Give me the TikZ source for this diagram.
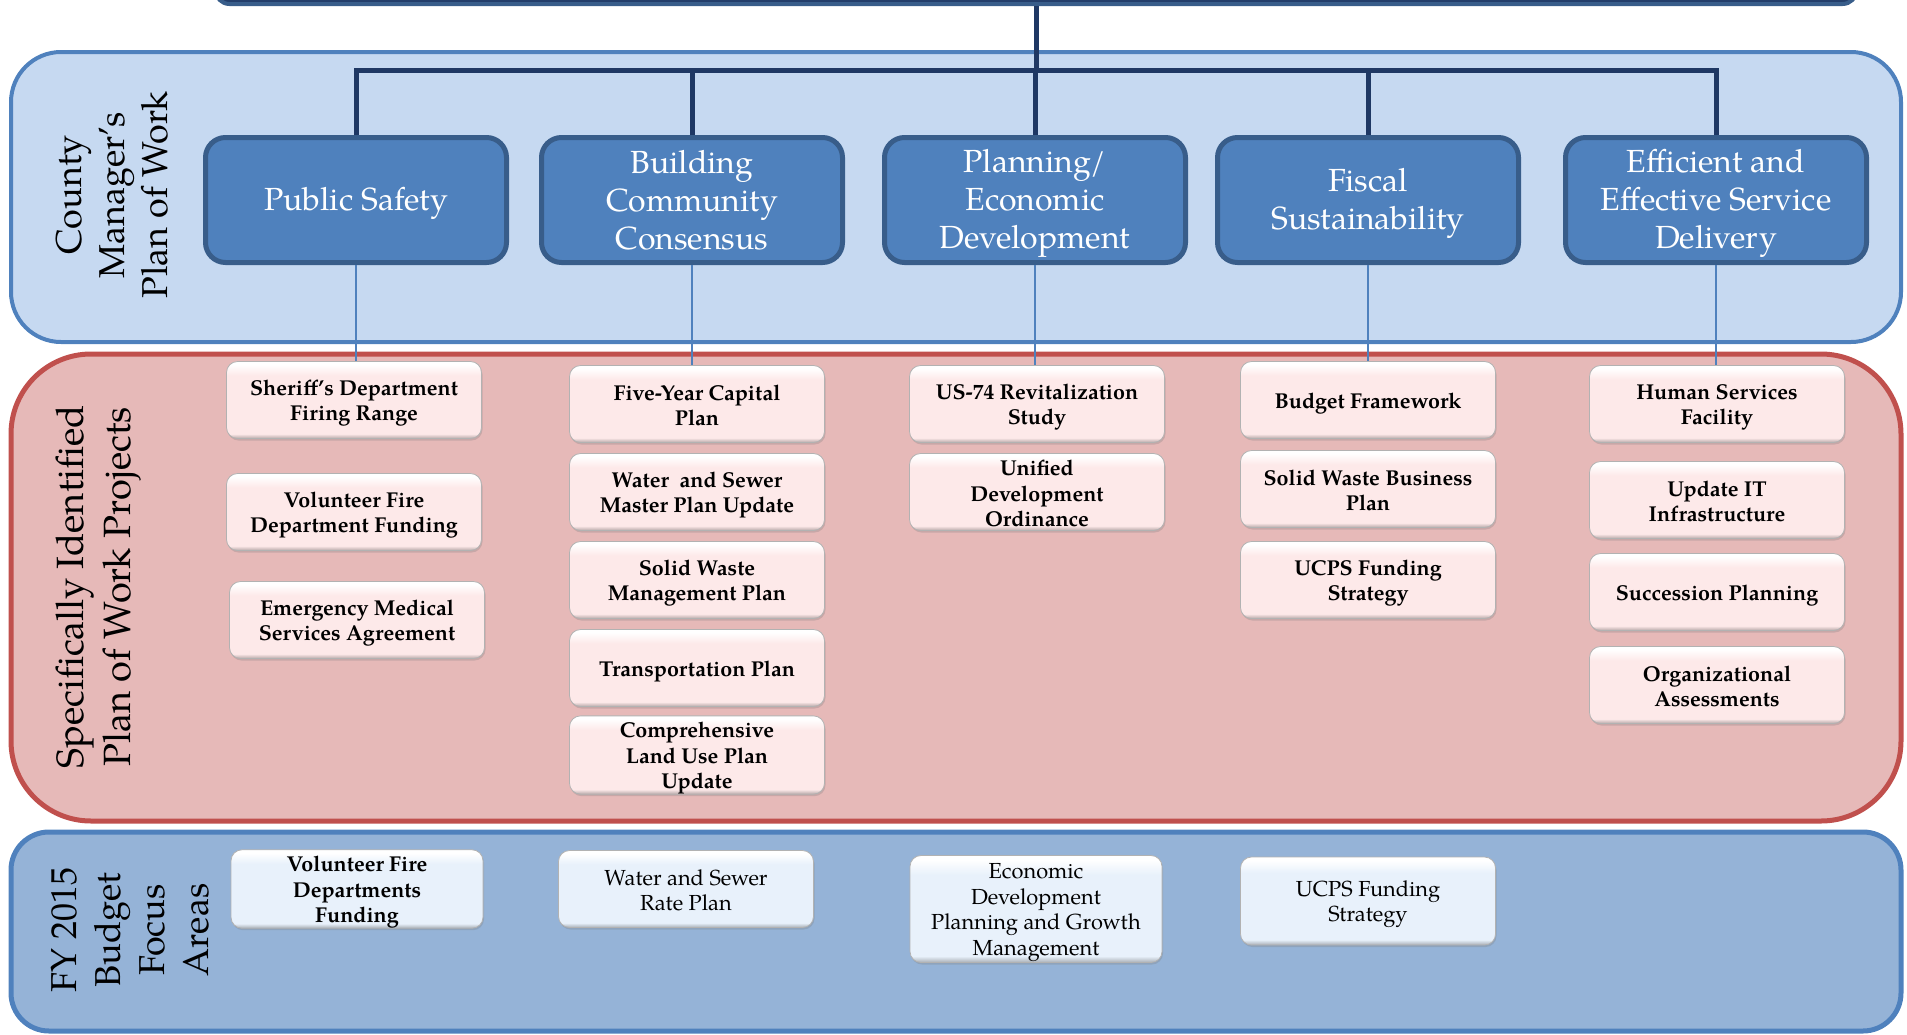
\documentclass[tikz,border=0pt]{standalone}
\usepackage{fontspec}
\setmainfont{TeX Gyre Pagella}
\usetikzlibrary{shadows}
\definecolor{pbfill}{HTML}{C6D9F1}
\definecolor{pbline}{HTML}{4F81BD}
\definecolor{hdfill}{HTML}{4F81BD}
\definecolor{hdline}{HTML}{385D8A}
\definecolor{navy}{HTML}{1F3864}
\definecolor{rdfill}{HTML}{E6B9B8}
\definecolor{rdline}{HTML}{C0504D}
\definecolor{bbfill}{HTML}{95B3D7}
\definecolor{pkfill}{HTML}{FDE9E9}
\definecolor{ltfill}{HTML}{E8F1FB}
\colorlet{pkdark}{pkfill!72!black}
\colorlet{ltdark}{ltfill!72!black}
\pgfdeclareverticalshading{pinkbevel}{100bp}{color(0bp)=(pkdark); color(25bp)=(pkdark); color(28bp)=(pkfill); color(66bp)=(pkfill); color(73bp)=(white); color(100bp)=(white)}
\pgfdeclareverticalshading{bluebevel}{100bp}{color(0bp)=(ltdark); color(25bp)=(ltdark); color(28bp)=(ltfill); color(66bp)=(ltfill); color(73bp)=(white); color(100bp)=(white)}
% invisible struts: metric-based vertical centring of the lines
\newcommand\itop{\rule{0pt}{21.75pt}}
\newcommand\ibot{\rule[-3.75pt]{0pt}{3.75pt}}
\newcommand\htop{\rule{0pt}{30pt}}
\newcommand\hbot{\rule[-8pt]{0pt}{8pt}}
\begin{document}
\begin{tikzpicture}[x=1pt,y=-1pt,
  hdr/.style={draw=hdline, fill=hdfill, line width=5pt, rounded corners=20pt,
    minimum width=301pt, minimum height=125pt, inner sep=0pt, text=white,
    align=center, font=\fontsize{32}{38}\selectfont},
  itembase/.style={draw=black!30, line width=0.8pt, rounded corners=11pt,
    minimum width=255pt, minimum height=77pt, inner sep=0pt, align=center,
    drop shadow={shadow xshift=1pt, shadow yshift=-2pt, opacity=0.3}},
  pitem/.style={itembase, shading=pinkbevel, font=\bfseries\fontsize{21.5}{25.5}\selectfont},
  bitem/.style={itembase, shading=bluebevel, font=\fontsize{21.8}{25.5}\selectfont},
  bbitem/.style={itembase, shading=bluebevel, font=\bfseries\fontsize{21.5}{25.5}\selectfont},
  sidelabel/.style={rotate=90, align=center, inner sep=0pt},
  bus/.style={draw=navy, line width=5pt},
  link/.style={draw=pbline, line width=2pt},
  topbar/.style={fill=navy!85!hdline, draw=hdline, line width=4pt, rounded corners=14pt,
    minimum width=1641pt, minimum height=64pt, inner sep=0pt}
]
\useasboundingbox (0,0) rectangle (1907,1034);
\clip (0,0) rectangle (1907,1034);

% panels
\path[fill=pbfill, draw=pbline, line width=4pt, rounded corners=50pt] (11,52) rectangle (1901,342);
\path[fill=rdfill, draw=rdline, line width=5pt, rounded corners=80pt] (11,354) rectangle (1901,821);
\path[fill=bbfill, draw=pbline, line width=5pt, rounded corners=38pt] (11,832) rectangle (1901,1031);

% top bar (partially visible)
\node[topbar] (top) at (1036,-28) {};

% side labels
\node[sidelabel, font=\fontsize{36}{43}\selectfont] (lab1) at (112,195) {County\\Manager’s\\Plan of Work};
\node[sidelabel, font=\fontsize{38}{47}\selectfont] (lab2) at (99,587) {Specifically Identified\\Plan of Work Projects};
\node[sidelabel, font=\fontsize{36}{44}\selectfont] (lab3) at (130,930) {FY 2015\\Budget\\Focus\\Areas};

% headers
\node[hdr] (h1) at (356,200) {\htop Public Safety\hbot};
\node[hdr] (h2) at (692,200) {\htop Building\\Community\\Consensus\hbot};
\node[hdr] (h3) at (1035,200) {\htop Planning/\\Economic\\Development\hbot};
\node[hdr] (h4) at (1368,200) {\htop Fiscal\\Sustainability\hbot};
\node[hdr] (h5) at (1716,200) {\htop Efficient and\\Effective Service\\Delivery\hbot};

% column 1
\node[pitem] (a1) at (354,400) {\itop Sheriff’s Department\\Firing Range\ibot};
\node[pitem] (a2) at (354,512) {\itop Volunteer Fire\\Department Funding\ibot};
\node[pitem] (a3) at (357,620) {\itop Emergency Medical\\Services Agreement\ibot};
% column 2
\node[pitem] (b1) at (697,404) {\itop Five-Year Capital\\Plan\ibot};
\node[pitem] (b2) at (697,492) {\itop Water~ and Sewer\\Master Plan Update\ibot};
\node[pitem] (b3) at (697,580) {\itop Solid Waste\\Management Plan\ibot};
\node[pitem] (b4) at (697,668) {\itop Transportation Plan\ibot};
\node[pitem] (b5) at (697,755) {\itop Comprehensive\\Land Use Plan\\Update\ibot};
% column 3
\node[pitem] (c1) at (1037,404) {\itop US-74 Revitalization\\Study\ibot};
\node[pitem] (c2) at (1037,492) {\itop Unified\\Development\\Ordinance\ibot};
% column 4
\node[pitem] (d1) at (1368,400) {\itop Budget Framework\ibot};
\node[pitem] (d2) at (1368,489) {\itop Solid Waste Business\\Plan\ibot};
\node[pitem] (d3) at (1368,580) {\itop UCPS Funding\\Strategy\ibot};
% column 5
\node[pitem] (e1) at (1717,404) {\itop Human Services\\Facility\ibot};
\node[pitem] (e2) at (1717,500) {\itop Update IT\\Infrastructure\ibot};
\node[pitem] (e3) at (1717,592) {\itop Succession Planning\ibot};
\node[pitem] (e4) at (1717,685) {\itop Organizational\\Assessments\ibot};

% budget focus areas
\node[bbitem, minimum width=252pt, minimum height=78pt] (f1) at (357,889) {\itop Volunteer Fire\\Departments\\Funding\ibot};
\node[bitem] (f2) at (686,889) {\itop Water and Sewer\\Rate Plan\ibot};
\node[bitem, minimum width=252pt, minimum height=107pt] (f3) at (1036,909) {\itop Economic\\Development\\Planning and Growth\\Management\ibot};
\node[bitem, minimum height=88pt] (f4) at (1368,901) {\itop UCPS Funding\\Strategy\ibot};

% connectors
\coordinate (bus) at (1036,70);
\draw[bus] (top.south) -- (bus);
\draw[bus] (h1.north) |- (bus) -| (h5.north);
\draw[bus] (h2.north) -- (h2.north |- bus);
\draw[bus] (h3.north) -- (h3.north |- bus);
\draw[bus] (h4.north) -- (h4.north |- bus);

\draw[link] (h1.south) -- (h1.south |- a1.north);
\draw[link] (h2.south) -- (h2.south |- b1.north);
\draw[link] (h3.south) -- (h3.south |- c1.north);
\draw[link] (h4.south) -- (h4.south |- d1.north);
\draw[link] (h5.south) -- (h5.south |- e1.north);
\end{tikzpicture}
\end{document}
